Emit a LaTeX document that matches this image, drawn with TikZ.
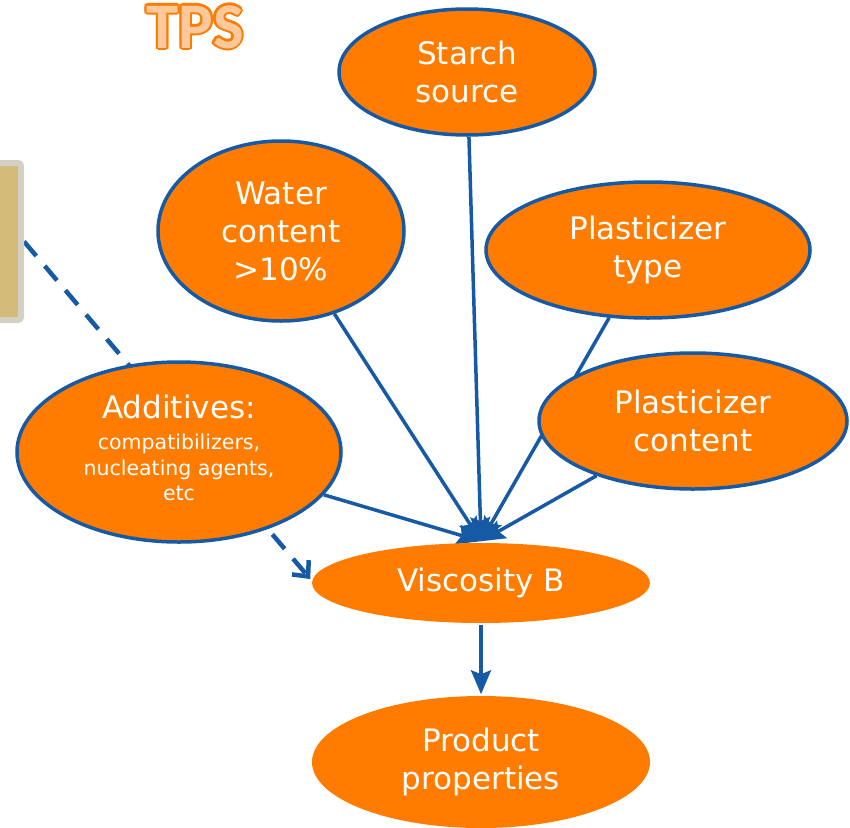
\documentclass[tikz,border=0pt]{standalone}
\usepackage{fontspec}
\setmainfont{DejaVu Sans}
\newfontfamily\titlefont{Carlito}
\usetikzlibrary{shapes.geometric,arrows.meta,backgrounds,calc}
\definecolor{tpsorange}{RGB}{255,124,0}
\definecolor{tpslight}{RGB}{253,200,155}
\definecolor{linkblue}{RGB}{22,90,165}
\definecolor{notetan}{RGB}{210,188,120}
\definecolor{noterim}{RGB}{212,208,196}
\newcommand{\bigtxt}{\fontsize{31}{38}\selectfont}
\newcommand{\smalltxt}{\fontsize{20.5}{25.5}\selectfont}

\begin{document}
\begin{tikzpicture}[
    x=1pt, y=-1pt,
    factor/.style={ellipse, draw=linkblue, line width=3.5pt, fill=tpsorange, text=white, inner sep=0pt, align=center, font=\bigtxt},
    result/.style={factor, draw=none},
    arrow/.style={-{Stealth[length=24pt,width=20pt,inset=4pt]}, draw=linkblue, line width=3.5pt},
    dflow/.style={-{Straight Barb[length=12pt,width=22pt]}, draw=linkblue, line width=4.5pt, dash pattern=on 19pt off 13pt},
    notebox/.style={draw=noterim, line width=6pt, fill=notetan, rounded corners=3pt, minimum width=30pt, minimum height=157pt, inner sep=0pt},
]
\useasboundingbox (0,0) rectangle (850,827);

% title with outline
\foreach \a in {0,30,...,330}
  \node[text=tpsorange, font=\titlefont\bfseries\fontsize{65}{70}\selectfont] at ($(195,27)+(\a:2.2pt)$) {TPS};
\node[text=tpslight, font=\titlefont\bfseries\fontsize{65}{70}\selectfont] (title) at (195,27) {TPS};

\node[notebox] (note) at (6,241.5) {};

\node[factor, minimum width=256pt, minimum height=126pt] (starch) at (467,72) {Starch\\source};
\node[factor, minimum width=246pt, minimum height=180pt] (water) at (281,231) {Water\\content\\>10\%};
\node[factor, minimum width=324pt, minimum height=136pt] (ptype) at (648,250) {Plasticizer\\type};
\node[factor, minimum width=308pt, minimum height=136pt] (pcontent) at (693,421) {Plasticizer\\content};
\node[factor, minimum width=324pt, minimum height=180pt] (additives) at (179,452) {Additives:\\[-7pt]{\smalltxt\begin{tabular}[t]{@{}c@{}}compatibilizers,\\nucleating agents,\\etc\end{tabular}}};
\node[result, minimum width=338pt, minimum height=80pt] (visc) at (481,583) {Viscosity B};
\node[result, minimum width=338pt, minimum height=132pt] (product) at (481,762) {Product\\properties};

\begin{scope}[on background layer]
\draw[dflow] (note.east) -- ([yshift=4pt]visc.west);
\draw[arrow] (starch) -- (visc.north);
\draw[arrow] (water) -- (visc.north);
\draw[arrow] (ptype) -- (visc.north);
\draw[arrow] (pcontent) -- (visc.north);
\draw[arrow] (additives) -- (visc.north);
\draw[arrow] (visc) -- (product);
\end{scope}
\end{tikzpicture}
\end{document}
